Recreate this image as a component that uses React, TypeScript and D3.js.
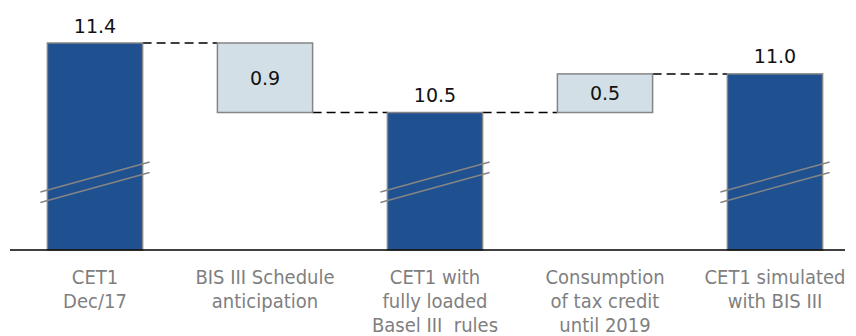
import React from "react";
import * as d3 from "d3";

const categories: string[][] = [
  ["CET1", "Dec/17"],
  ["BIS III Schedule", "anticipation"],
  ["CET1 with", "fully loaded", "Basel III  rules"],
  ["Consumption", "of tax credit", "until 2019"],
  ["CET1 simulated", "with BIS III"],
];
const kinds: string[] = ["total", "delta", "total", "delta", "total"];
const values: number[] = [11.4, -0.9, 10.5, 0.5, 11.0];
const valueLabels: string[] = ["11.4", "0.9", "10.5", "0.5", "11.0"];

const W = 856;
const H = 336;
const baseValue = 8.72;

export default function App() {
  const keys = categories.map((c, i) => String(i));
  const x = d3.scaleBand<string>().domain(keys).range([10, 860]).paddingInner(0.44).paddingOuter(0.22);
  const y = d3.scaleLinear().domain([baseValue, 11.4]).range([250, 43]);

  let running = 0;
  const bars = values.map((v, i) => {
    let lo: number, hi: number, end: number;
    if (kinds[i] === "total") {
      lo = baseValue;
      hi = v;
      end = v;
    } else {
      const start = running;
      end = running + v;
      lo = Math.min(start, end);
      hi = Math.max(start, end);
    }
    running = end;
    return { i, lo, hi, end, kind: kinds[i] };
  });

  const dark = "#1f5190";
  const light = "#d3dfe6";
  const edge = "#858585";
  const font = "'DejaVu Sans Condensed', 'DejaVu Sans', Verdana, sans-serif";
  const valueFont = "'DejaVu Sans', Verdana, sans-serif";
  const base = y(baseValue);

  return (
    <svg width={W} height={H} style={{ position: "absolute", left: 0, top: 0, background: "#fff" }}>
      {bars.slice(0, -1).map((b, i) => {
        const x1 = (x(String(i)) as number) + x.bandwidth();
        const x2 = x(String(i + 1)) as number;
        const yy = y(b.end);
        return (
          <line key={"c" + i} x1={x1} x2={x2} y1={yy} y2={yy} stroke="#000" strokeWidth={1.5} strokeDasharray="9,5" />
        );
      })}
      {bars.map((b) => {
        const bx = x(String(b.i)) as number;
        const bw = x.bandwidth();
        const top = y(b.hi);
        const bottom = y(b.lo);
        return (
          <g key={"b" + b.i}>
            <rect x={bx} y={top} width={bw} height={bottom - top} fill={b.kind === "total" ? dark : light} stroke={edge} strokeWidth={1.5} />
            {b.kind === "total" && (
              <g>
                {[0, 10.5].map((off, k) => (
                  <line key={k} x1={bx - 7} x2={bx + bw + 7} y1={base - 58 + off} y2={base - 88 + off} stroke={edge} strokeWidth={1.5} />
                ))}
              </g>
            )}
            <text
              x={bx + bw / 2}
              y={b.kind === "total" ? top - 10.5 : (top + bottom) / 2 + 7}
              textAnchor="middle"
              fontFamily={valueFont}
              fontSize={19}
              fill="#111"
            >
              {valueLabels[b.i]}
            </text>
          </g>
        );
      })}
      <line x1={10} x2={845} y1={base} y2={base} stroke="#000" strokeWidth={1.5} />
      {categories.map((lines, i) => {
        const cx = (x(String(i)) as number) + x.bandwidth() / 2;
        return (
          <text key={"l" + i} x={cx} textAnchor="middle" fontFamily={font} fontSize={20} fill="#7f7f7f">
            {lines.map((t, k) => (
              <tspan key={k} x={cx} y={284 + k * 24} style={{ whiteSpace: "pre" }}>
                {t}
              </tspan>
            ))}
          </text>
        );
      })}
    </svg>
  );
}
